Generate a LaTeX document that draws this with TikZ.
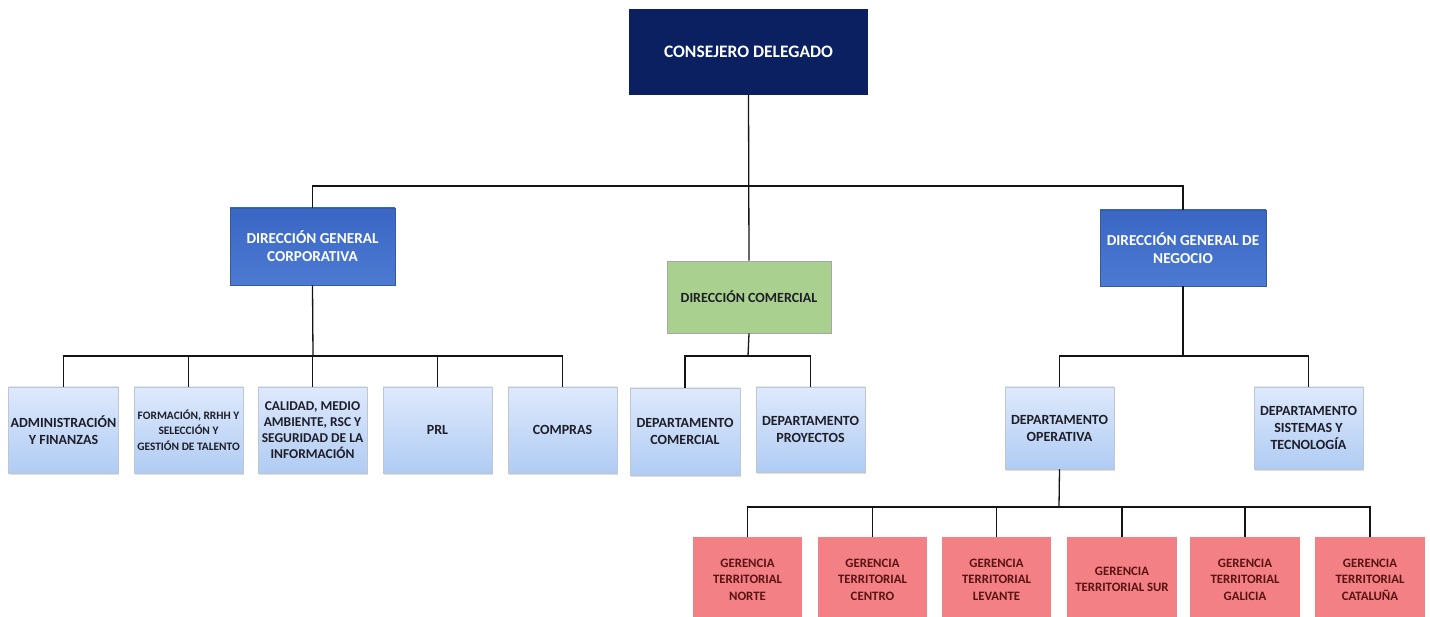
\documentclass[tikz,border=0pt]{standalone}
\usepackage{fontspec}
\setmainfont{Carlito}
\usetikzlibrary{shadows}
\definecolor{navy}{RGB}{10,32,96}
\definecolor{dgblue}{RGB}{66,112,200}
\definecolor{dgblueT}{RGB}{58,102,196}
\definecolor{dgblueB}{RGB}{76,122,210}
\definecolor{lbT}{RGB}{222,233,252}
\definecolor{lbB}{RGB}{176,204,244}
\definecolor{lbD}{RGB}{150,160,175}
\definecolor{grn}{RGB}{169,208,142}
\definecolor{rosa}{RGB}{242,128,132}
\definecolor{darkred}{RGB}{90,20,20}
\definecolor{txtdark}{RGB}{30,30,40}
\definecolor{linec}{RGB}{20,20,20}
\tikzset{
  box/.style={rectangle, inner sep=2pt, align=center, font=\bfseries, text depth=0pt},
  topbox/.style={box, fill=navy, text=white, font=\bfseries\fontsize{17.5}{20}\selectfont},
  dgbox/.style={box, top color=dgblueT, bottom color=dgblueB, draw=dgblue!80!black, line width=0.6pt, text=white, font=\bfseries\fontsize{15.2}{18}\selectfont, drop shadow={shadow xshift=1pt, shadow yshift=-1.5pt, opacity=0.25}},
  grnbox/.style={box, fill=grn, draw=gray!70, line width=0.8pt, text=txtdark, font=\bfseries\fontsize{14}{17}\selectfont, drop shadow={shadow xshift=1pt, shadow yshift=-1.5pt, opacity=0.2}},
  lbbox/.style={box, top color=lbT, bottom color=lbB, draw=lbD!60, line width=0.5pt, text=txtdark, font=\bfseries\fontsize{14}{17}\selectfont, drop shadow={shadow xshift=1pt, shadow yshift=-1.5pt, opacity=0.25}},
  rbox/.style={box, fill=rosa, text=darkred, font=\bfseries\fontsize{12.8}{16.5}\selectfont},
  conn/.style={draw=linec, line width=1.3pt}
}
\begin{document}
\begin{tikzpicture}[x=1pt,y=-1pt]
\useasboundingbox (0,0) rectangle (1430,617);
\newcommand{\bx}[6]{\node[#1, minimum width=#4-#2, minimum height=#5-#3] (#6) at ({(#2+#4)/2},{(#3+#5)/2})}
\bx{topbox}{629}{9}{868}{95}{ceo} {CONSEJERO DELEGADO};
\bx{dgbox}{230}{208}{395}{285}{dgc} {DIRECCIÓN GENERAL\\CORPORATIVA};
\bx{dgbox}{1100}{210}{1266}{286}{dgn} {DIRECCIÓN GENERAL DE\\NEGOCIO};
\bx{grnbox}{667}{261}{831}{333}{dcom} {DIRECCIÓN COMERCIAL};
\bx{lbbox}{9}{387}{118}{473}{adm} {ADMINISTRACIÓN\\Y FINANZAS};
\bx{lbbox,font=\bfseries\fontsize{11.4}{15.5}\selectfont}{134}{387}{243}{473}{form} {FORMACIÓN, RRHH Y\\SELECCIÓN Y\\GESTIÓN DE TALENTO};
\bx{lbbox,font=\bfseries\fontsize{13.5}{16}\selectfont}{258}{387}{367}{473}{cal} {CALIDAD, MEDIO\\AMBIENTE, RSC Y\\SEGURIDAD DE LA\\INFORMACIÓN};
\bx{lbbox}{383}{387}{492}{473}{prl} {PRL};
\bx{lbbox}{508}{387}{617}{473}{comp} {COMPRAS};
\bx{lbbox}{630}{388}{740}{475}{depc} {DEPARTAMENTO\\COMERCIAL};
\bx{lbbox}{756}{387}{865}{472}{depp} {DEPARTAMENTO\\PROYECTOS};
\bx{lbbox}{1005}{387}{1114}{469}{depo} {DEPARTAMENTO\\OPERATIVA};
\bx{lbbox}{1254}{387}{1363}{469}{deps} {DEPARTAMENTO\\SISTEMAS Y\\TECNOLOGÍA};
\bx{rbox}{693}{537}{802}{622}{g1} {GERENCIA\\TERRITORIAL\\NORTE};
\bx{rbox}{818}{537}{927}{622}{g2} {GERENCIA\\TERRITORIAL\\CENTRO};
\bx{rbox}{942}{537}{1051}{622}{g3} {GERENCIA\\TERRITORIAL\\LEVANTE};
\bx{rbox}{1067}{537}{1177}{622}{g4} {GERENCIA\\TERRITORIAL SUR};
\bx{rbox}{1190}{537}{1300}{622}{g5} {GERENCIA\\TERRITORIAL\\GALICIA};
\bx{rbox}{1315}{537}{1425}{622}{g6} {GERENCIA\\TERRITORIAL\\CATALUÑA};
% connectors
\coordinate (j0) at (748,186);
\coordinate (j1) at (313,356);
\coordinate (j2) at (748,356);
\coordinate (j3) at (1183,356);
\coordinate (j4) at (1059,507);
\draw[conn] (ceo.south) -- (dcom.north);
\draw[conn] (dgc.north) |- (j0) -| (dgn.north);
\draw[conn] (dgc.south) -- (j1);
\draw[conn] (adm.north) |- (j1) -| (comp.north);
\draw[conn] (form.north) -- (form.north |- j1);
\draw[conn] (cal.north) -- (cal.north |- j1);
\draw[conn] (prl.north) -- (prl.north |- j1);
\draw[conn] (dcom.south) -- (j2);
\draw[conn] (depc.north) |- (j2) -| (depp.north);
\draw[conn] (dgn.south) -- (j3);
\draw[conn] (depo.north) |- (j3) -| (deps.north);
\draw[conn] (depo.south) -- (j4);
\draw[conn] (g1.north) |- (j4) -| (g6.north);
\foreach \g in {g2,g3,g4,g5} \draw[conn] (\g.north) -- (\g.north |- j4);
\end{tikzpicture}
\end{document}
